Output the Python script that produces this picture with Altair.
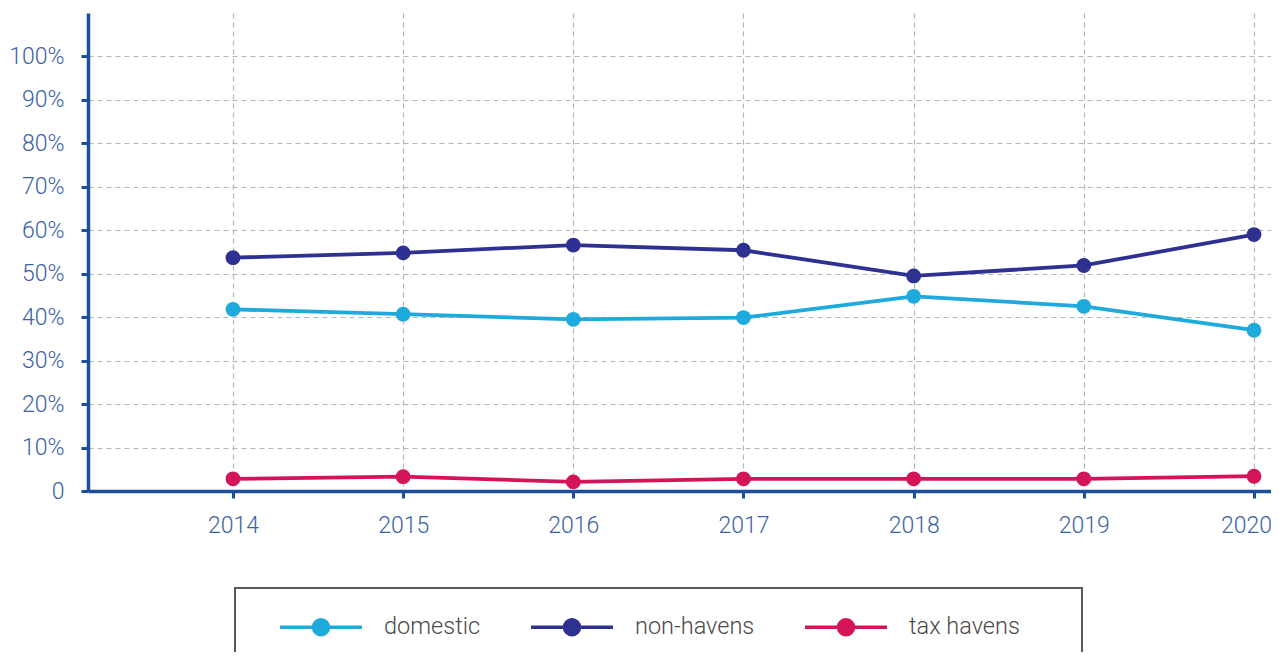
import altair as alt
import pandas as pd

years = [2014, 2015, 2016, 2017, 2018, 2019, 2020]
domestic = [41.8, 40.7, 39.5, 39.9, 44.8, 42.5, 37.0]
non_havens = [53.7, 54.8, 56.6, 55.4, 49.5, 51.9, 59.0]
tax_havens = [2.8, 3.3, 2.1, 2.8, 2.8, 2.8, 3.4]

series_names = ["domestic", "non-havens", "tax havens"]
series_colors = ["#1eaadc", "#2e3192", "#d4145a"]
y_ticks = [0, 10, 20, 30, 40, 50, 60, 70, 80, 90, 100]

rows = []
for name, vals in zip(series_names, [domestic, non_havens, tax_havens]):
    for yr, v in zip(years, vals):
        rows.append({"year": yr, "share": v, "series": name})
df = pd.DataFrame(rows)

AXIS = "#1d4e9b"
LABEL = "#3a62a6"
GRID = "#b5b5b5"
FONT = "Roboto"

legend_path = "M0.6,0L8.8,0M5.45,0A0.75,0.75,0,1,1,3.95,0A0.75,0.75,0,1,1,5.45,0Z"
PAD_TAIL = "\u00a0" * 6 + "\u200b"

color = alt.Color(
    "series:N",
    scale=alt.Scale(domain=series_names, range=series_colors),
    legend=alt.Legend(
        title=None,
        orient="none",
        legendX=147,
        legendY=575,
        direction="horizontal",
        symbolType=legend_path,
        symbolSize=400,
        symbolStrokeWidth=3.5,
        labelOffset=98,
        columnPadding=32,
        padding=27,
        labelFont=FONT,
        labelFontSize=23.5,
        labelFontWeight=300,
        labelColor="#4a4a4a",
        labelExpr="datum.label == 'tax havens' ? 'tax havens" + PAD_TAIL + "' : datum.label",
        strokeColor="#5a5a5a",
    ),
)

x = alt.X(
    "year:Q",
    scale=alt.Scale(domain=[2013.148, 2020.1], nice=False, zero=False),
    axis=alt.Axis(
        values=years,
        format="d",
        title=None,
        domainColor=AXIS,
        domainWidth=3.5,
        tickColor=AXIS,
        tickWidth=3,
        tickSize=7,
        labelPadding=16,
        labelOffset={"condition": {"test": "datum.value == 2020", "value": -8}, "value": 0},
        labelColor=LABEL,
        labelFont=FONT,
        labelFontSize=23,
        labelFontWeight=300,
        grid=True,
        gridColor=GRID,
        gridDash=[5, 4],
        gridWidth=1.2,
    ),
)
y = alt.Y(
    "share:Q",
    scale=alt.Scale(domain=[0, 110], nice=False),
    axis=alt.Axis(
        values=y_ticks,
        labelExpr="datum.value == 0 ? '0' : datum.value + '%'",
        title=None,
        domainColor=AXIS,
        domainWidth=3.5,
        tickColor=AXIS,
        tickWidth=3,
        tickSize=7,
        labelPadding=17,
        labelColor=LABEL,
        labelFont=FONT,
        labelFontSize=23,
        labelFontWeight=300,
        grid=True,
        gridColor=GRID,
        gridDash=[5, 4],
        gridWidth=1.2,
    ),
)

base = alt.Chart(df).encode(x=x, y=y, color=color)
points = base.mark_point(filled=True, size=220, opacity=1)
lines = base.mark_line(strokeWidth=3.8)

chart = (
    alt.layer(points, lines)
    .properties(
        width=1183,
        height=478,
        autosize=alt.AutoSizeParams(type="none"),
        padding={"left": 80, "top": 5, "right": 0, "bottom": 161},
    )
    .configure_view(stroke=None)
    .configure_legend(strokeWidth=2)
)

chart.save("out.html", embed_options={"renderer": "svg", "actions": False})
